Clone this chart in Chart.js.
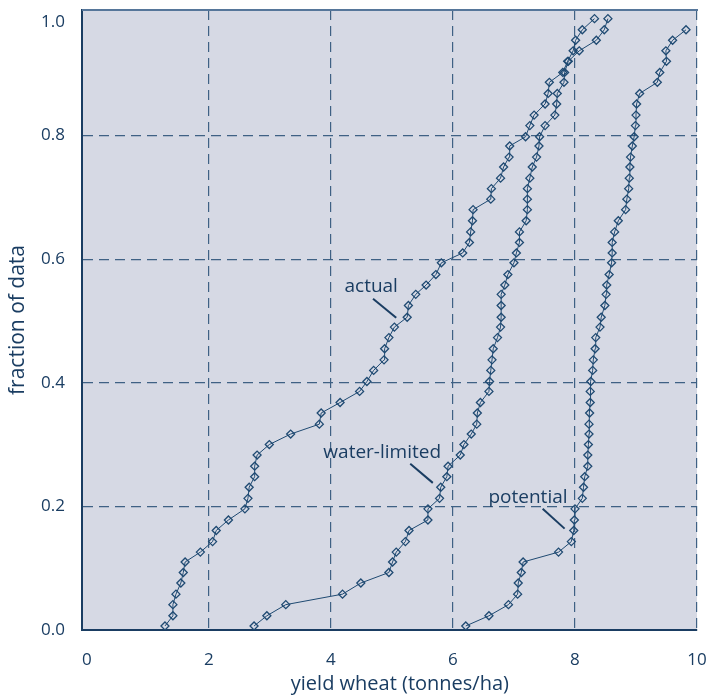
<!DOCTYPE html>
<html>
<head>
<meta charset="utf-8">
<script src="https://cdn.jsdelivr.net/npm/chart.js@4"></script>
<style>
  html, body { margin: 0; padding: 0; background: #ffffff; }
</style>
</head>
<body>
<canvas id="yieldChart" width="708" height="696"></canvas>
<script>
// fraction of data (shared y levels)
var fraction = [0.0065, 0.023, 0.041, 0.058, 0.076, 0.093, 0.110, 0.126, 0.143, 0.161,
  0.178, 0.196, 0.213, 0.231, 0.248, 0.265, 0.283, 0.300, 0.317, 0.333,
  0.351, 0.368, 0.386, 0.402, 0.420, 0.437, 0.455, 0.473, 0.490, 0.506,
  0.525, 0.543, 0.558, 0.575, 0.594, 0.610, 0.627, 0.644, 0.662, 0.680,
  0.697, 0.714, 0.731, 0.749, 0.765, 0.783, 0.798, 0.816, 0.833, 0.851,
  0.868, 0.886, 0.902, 0.920, 0.937, 0.954, 0.971, 0.989];

// yield wheat (tonnes/ha)
var actual = [1.28, 1.41, 1.41, 1.46, 1.54, 1.58, 1.61, 1.86, 2.06, 2.12,
  2.32, 2.59, 2.64, 2.66, 2.75, 2.75, 2.79, 2.99, 3.34, 3.81,
  3.84, 4.15, 4.47, 4.59, 4.70, 4.87, 4.88, 4.95, 5.04, 5.25,
  5.27, 5.39, 5.56, 5.72, 5.81, 6.16, 6.27, 6.29, 6.32, 6.33,
  6.62, 6.63, 6.78, 6.83, 6.92, 6.93, 7.19, 7.26, 7.33, 7.51,
  7.56, 7.58, 7.80, 7.88, 7.97, 8.01, 8.12, 8.32];

var waterLimited = [2.74, 2.95, 3.26, 4.19, 4.49, 4.95, 5.01, 5.07, 5.22, 5.28,
  5.59, 5.59, 5.78, 5.80, 5.90, 5.92, 6.12, 6.18, 6.30, 6.39,
  6.40, 6.45, 6.59, 6.60, 6.62, 6.64, 6.66, 6.73, 6.78, 6.79,
  6.79, 6.79, 6.85, 6.90, 7.00, 7.04, 7.09, 7.09, 7.20, 7.22,
  7.22, 7.22, 7.26, 7.30, 7.37, 7.41, 7.42, 7.51, 7.67, 7.70,
  7.71, 7.82, 7.83, 7.89, 8.07, 8.35, 8.48, 8.54];

var potential = [6.21, 6.59, 6.91, 7.06, 7.07, 7.12, 7.15, 7.73, 7.94, 7.98,
  7.99, 8.00, 8.12, 8.14, 8.16, 8.21, 8.21, 8.22, 8.23, 8.23,
  8.24, 8.25, 8.25, 8.26, 8.29, 8.30, 8.33, 8.34, 8.41, 8.43,
  8.49, 8.51, 8.52, 8.56, 8.60, 8.61, 8.61, 8.65, 8.71, 8.83,
  8.85, 8.88, 8.89, 8.90, 8.91, 8.94, 8.97, 8.99, 9.00, 9.01,
  9.06, 9.35, 9.39, 9.50, 9.49, 9.60, 9.82];

var xTicks = [0, 2, 4, 6, 8, 10];
var yTicks = [0, 0.2, 0.4, 0.6, 0.8, 1.0];

// callout labels: text, baseline anchor and leader line in data units
var callouts = [
  { text: "actual", at: [4.66, 0.547], from: [4.69, 0.536], to: [5.07, 0.505] },
  { text: "water-limited", at: [4.84, 0.278], from: [5.30, 0.269], to: [5.67, 0.238] },
  { text: "potential", at: [7.23, 0.205], from: [7.47, 0.196], to: [7.83, 0.164] }
];

var navy = "#1a3d62";
var markColor = "#1f4a72";
var gridColor = "#3f6184";
var plotBg = "#d6d9e4";
var fontFamily = "'Open Sans', 'Noto Sans', sans-serif";

function toPoints(xs) {
  return xs.map(function (x, i) { return { x: x, y: fraction[i] }; });
}

function series(label, xs) {
  return {
    label: label,
    data: toPoints(xs),
    showLine: true,
    borderColor: markColor,
    borderWidth: 1,
    pointStyle: "rectRot",
    pointRadius: 4,
    pointBorderWidth: 1.3,
    pointBorderColor: markColor,
    pointBackgroundColor: "rgba(0,0,0,0)"
  };
}

var plotFrame = {
  id: "plotFrame",
  beforeDraw: function (chart) {
    var a = chart.chartArea, ctx = chart.ctx;
    ctx.save();
    ctx.fillStyle = plotBg;
    ctx.fillRect(a.left, a.top, a.right - a.left, a.bottom - a.top);
    ctx.restore();
  },
  beforeDatasetsDraw: function (chart) {
    var a = chart.chartArea, ctx = chart.ctx;
    ctx.save();
    ctx.strokeStyle = "#56769a";
    ctx.lineWidth = 2;
    ctx.beginPath();
    ctx.moveTo(a.left, a.top);
    ctx.lineTo(a.right + 1, a.top);
    ctx.stroke();
    ctx.restore();
  },
  afterDraw: function (chart) {
    var ctx = chart.ctx, sx = chart.scales.x, sy = chart.scales.y;
    ctx.save();
    ctx.fillStyle = navy;
    ctx.strokeStyle = navy;
    ctx.lineWidth = 2;
    ctx.font = "19px " + fontFamily;
    ctx.textAlign = "center";
    ctx.textBaseline = "alphabetic";
    callouts.forEach(function (c) {
      ctx.fillText(c.text, sx.getPixelForValue(c.at[0]), sy.getPixelForValue(c.at[1]));
      ctx.beginPath();
      ctx.moveTo(sx.getPixelForValue(c.from[0]), sy.getPixelForValue(c.from[1]));
      ctx.lineTo(sx.getPixelForValue(c.to[0]), sy.getPixelForValue(c.to[1]));
      ctx.stroke();
    });
    ctx.restore();
  }
};

new Chart(document.getElementById("yieldChart").getContext("2d"), {
  type: "scatter",
  data: {
    datasets: [
      series("actual", actual),
      series("water-limited", waterLimited),
      series("potential", potential)
    ]
  },
  options: {
    responsive: false,
    animation: false,
    layout: { padding: { top: 10, right: 11, left: 0, bottom: 0 } },
    plugins: {
      legend: { display: false },
      tooltip: { enabled: false }
    },
    scales: {
      x: {
        type: "linear",
        min: -0.08,
        max: 10,
        afterBuildTicks: function (s) { s.ticks = xTicks.map(function (v) { return { value: v }; }); },
        afterFit: function (s) { s.height = 66; s.paddingLeft = 0; s.paddingRight = 0; },
        ticks: {
          autoSkip: false,
          maxRotation: 0,
          padding: 20,
          color: navy,
          font: { family: fontFamily, size: 17 },
          callback: function (v) { return String(v); }
        },
        grid: {
          drawTicks: false,
          lineWidth: 1.2,
          color: function (c) { return c.tick && c.tick.value > 0 ? gridColor : "rgba(0,0,0,0)"; }
        },
        border: { display: true, color: navy, width: 2, dash: [10, 6] },
        title: {
          display: true,
          // leading spaces nudge the centred title a little to the right, as in the original
          text: "    yield wheat (tonnes/ha)",
          color: navy,
          font: { family: fontFamily, size: 20 },
          padding: { top: 0, bottom: 0 }
        }
      },
      y: {
        type: "linear",
        min: 0,
        max: 1.003,
        afterBuildTicks: function (s) { s.ticks = yTicks.map(function (v) { return { value: v }; }); },
        afterFit: function (s) { s.width = 82; s.paddingTop = 0; s.paddingBottom = 0; },
        ticks: {
          padding: 17,
          color: navy,
          font: { family: fontFamily, size: 17 },
          callback: function (v) { return v === 1 ? ["", "1.0"] : v.toFixed(1); }
        },
        grid: {
          drawTicks: false,
          lineWidth: 1.2,
          color: function (c) {
            return c.tick && c.tick.value > 0 && c.tick.value < 1 ? gridColor : "rgba(0,0,0,0)";
          }
        },
        border: { display: true, color: navy, width: 2, dash: [10, 6] },
        title: {
          display: true,
          text: "fraction of data",
          color: navy,
          font: { family: fontFamily, size: 21 },
          padding: { top: 5, bottom: 0 }
        }
      }
    }
  },
  plugins: [plotFrame]
});
</script>
</body>
</html>
